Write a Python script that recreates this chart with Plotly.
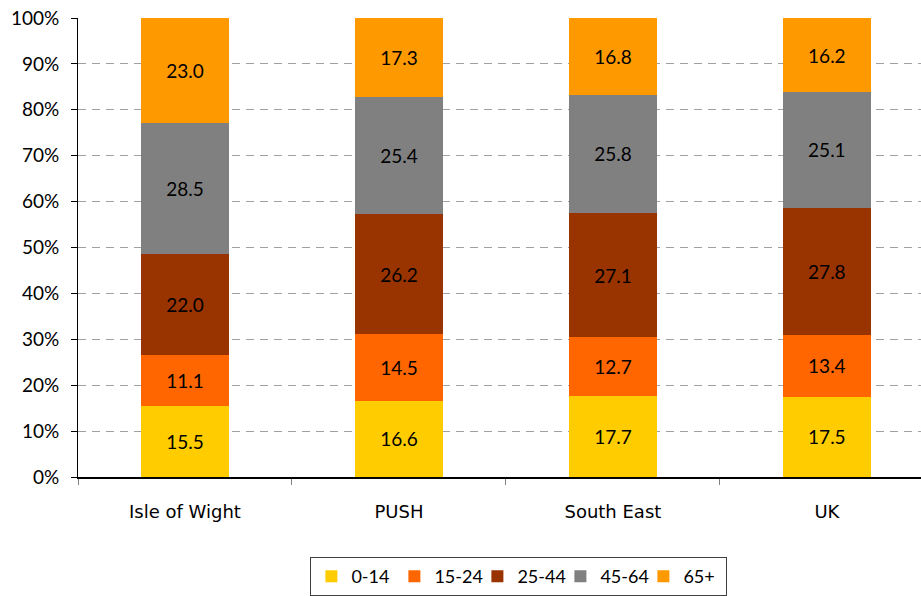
import plotly.graph_objects as go

areas = ["Isle of Wight", "PUSH", "South East", "UK"]
age_bands = ["0-14", "15-24", "25-44", "45-64", "65+"]
share_0_14 = [15.5, 16.6, 17.7, 17.5]
share_15_24 = [11.1, 14.5, 12.7, 13.4]
share_25_44 = [22.0, 26.2, 27.1, 27.8]
share_45_64 = [28.5, 25.4, 25.8, 25.1]
share_65_plus = [23.0, 17.3, 16.8, 16.2]
band_colors = ["#FFCC00", "#FF6600", "#993300", "#808080", "#FF9900"]
y_ticks = [0, 10, 20, 30, 40, 50, 60, 70, 80, 90, 100]

series = [share_0_14, share_15_24, share_25_44, share_45_64, share_65_plus]
font_family = "Lato, Open Sans, sans-serif"

fig = go.Figure()
for name, vals, col in zip(age_bands, series, band_colors):
    fig.add_trace(go.Bar(
        x=areas, y=vals, name=name,
        marker=dict(color=col, line=dict(width=0)),
        width=0.41,
        text=[f"{v:.1f}" for v in vals],
        textposition="inside", insidetextanchor="middle", textangle=0,
        textfont=dict(size=19, color="black", family=font_family),
        hoverinfo="skip",
    ))

fig.update_layout(
    barmode="stack",
    width=921, height=596,
    margin=dict(l=78, r=0, t=18, b=119),
    paper_bgcolor="white", plot_bgcolor="white",
    font=dict(family=font_family, color="black"),
    legend=dict(
        orientation="h", x=0.523, xanchor="center", y=-0.175, yanchor="top",
        bordercolor="#404040", borderwidth=1,
        font=dict(size=18, family=font_family),
        itemwidth=30, entrywidth=38, traceorder="normal",
    ),
    xaxis=dict(
        range=[-0.5, 3.44], showline=True, linecolor="black", linewidth=1.5,
        tickson="boundaries", ticks="outside", ticklen=6, tickcolor="#808080",
        tickfont=dict(size=18, family="DejaVu Sans"),
        ticklabelstandoff=18,
        showgrid=False,
    ),
    yaxis=dict(
        range=[0, 100], tickvals=y_ticks,
        ticktext=[f"{v}%" for v in y_ticks],
        showline=True, linecolor="black", linewidth=1,
        ticks="outside", ticklen=6, tickcolor="black",
        tickfont=dict(size=19, family=font_family),
        ticklabelstandoff=8,
        showgrid=True, gridcolor="#A0A0A0", griddash="8px,6px", gridwidth=1,
        zeroline=False,
    ),
)

fig.write_html("out.html")
